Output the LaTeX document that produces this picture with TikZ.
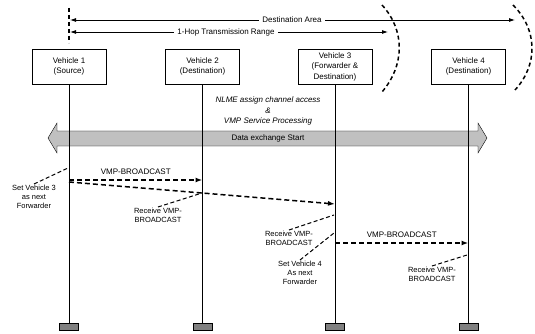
\documentclass[tikz,border=0pt]{standalone}
\usepackage{fontspec}
\setmainfont{Liberation Sans}
\usetikzlibrary{arrows.meta}
\definecolor{barfill}{RGB}{192,192,192}
\definecolor{footfill}{RGB}{128,128,128}

\begin{document}
\begin{tikzpicture}[x=1pt,y=-1pt, >={Latex[length=6pt,width=4pt]},
    vehicle/.style={draw, minimum width=74pt, minimum height=35pt, align=center,
      inner sep=1pt, font=\fontsize{8}{10.5}\selectfont},
    foot/.style={draw, fill=footfill, minimum width=19pt, minimum height=7pt, inner sep=0pt},
    msg/.style={-{Latex[length=7pt,width=5pt]}, line width=1.5pt, dash pattern=on 5pt off 3pt},
    rng/.style={line width=0.8pt},
    leader/.style={line width=1pt, dash pattern=on 4pt off 2.5pt},
    edge/.style={line width=1.5pt, dash pattern=on 4pt off 3pt},
    note/.style={align=center, anchor=north, inner sep=1pt, font=\fontsize{7.5}{9}\selectfont},
    lbl/.style={font=\fontsize{8}{10}\selectfont}]
  \useasboundingbox (0,0) rectangle (535,334);

  \node[vehicle](V1) at (69,66.5) {Vehicle 1\\(Source)};
  \node[vehicle](V2) at (202.5,66.5) {Vehicle 2\\(Destination)};
  \node[vehicle](V3) at (335,66.5) {Vehicle 3\\(Forwarder \&\\Destination)};
  \node[vehicle](V4) at (468.5,66.5) {Vehicle 4\\(Destination)};

  \node[foot](F1) at (69,327) {};
  \node[foot](F2) at (202.5,327) {};
  \node[foot](F3) at (335,327) {};
  \node[foot](F4) at (468.5,327) {};

  % ranges
  \coordinate (Top) at (69,8);
  \coordinate (Bot) at (69,43);
  \draw[edge] (Top) -- (Bot);
  \node[lbl](Dest) at (292,20) {Destination Area};
  \node[lbl](Hop) at (226,32) {1-Hop Transmission Range};
  \coordinate (DestL) at (70,20);
  \coordinate (DestR) at (515,20);
  \coordinate (HopL) at (70,32);
  \coordinate (HopR) at (388,32);
  \draw[rng, <-] (DestL) -- (Dest.west);
  \draw[rng, ->] (Dest.east) -- (DestR);
  \draw[rng, <-] (HopL) -- (Hop.west);
  \draw[rng, ->] (Hop.east) -- (HopR);
  \draw[edge] (382,5) .. controls (405,30) and (405,65) .. (382,92);
  \draw[edge] (513,5) .. controls (538,30) and (538,65) .. (515,90);

  \node[lbl, font=\fontsize{8}{10.5}\selectfont\itshape, align=center](Nlme) at (268,111)
    {NLME assign channel access\\\&\\VMP Service Processing};

  \draw[fill=barfill] (48,138) -- (57,123) -- (57,131) -- (478,131) -- (478,123) -- (487,138)
    -- (478,153) -- (478,146) -- (57,146) -- (57,153) -- cycle;
  \node[lbl](Data) at (268,138.5) {Data exchange Start};

  \draw (V1) -- (F1);
  \draw (V2) -- (F2);
  \draw (V3) -- (F3);
  \draw (V4) -- (F4);

  % messages
  \coordinate (M1a) at (69,180);
  \coordinate (M1b) at (202.5,180);
  \coordinate (M2a) at (69,182);
  \coordinate (M2b) at (335,204);
  \coordinate (M3a) at (335,243);
  \coordinate (M3b) at (468.5,243);
  \draw[msg] (M1a) -- node[lbl, above=1pt] {VMP-BROADCAST} (M1b);
  \draw[msg] (M2a) -- (M2b);
  \draw[msg] (M3a) -- node[lbl, above=1pt] {VMP-BROADCAST} (M3b);

  % notes
  \node[note](Set3) at (34,184) {Set Vehicle 3\\as next\\Forwarder};
  \node[note](Rcv2) at (158,207) {Receive VMP-\\BROADCAST};
  \node[note](Rcv3) at (289,230) {Receive VMP-\\BROADCAST};
  \node[note](Set4) at (300,260) {Set Vehicle 4\\As next\\Forwarder};
  \node[note](Rcv4) at (432,266) {Receive VMP-\\BROADCAST};
  \coordinate (P1) at (68,168);
  \coordinate (P2) at (202,193);
  \coordinate (P3) at (334,215);
  \coordinate (P4) at (334,233);
  \coordinate (P5) at (467,255);
  \draw[leader] (Set3.north) -- (P1);
  \draw[leader] (Rcv2.north) -- (P2);
  \draw[leader] (Rcv3.north) -- (P3);
  \draw[leader] (Set4.north) -- (P4);
  \draw[leader] (Rcv4.north) -- (P5);
\end{tikzpicture}
\end{document}
